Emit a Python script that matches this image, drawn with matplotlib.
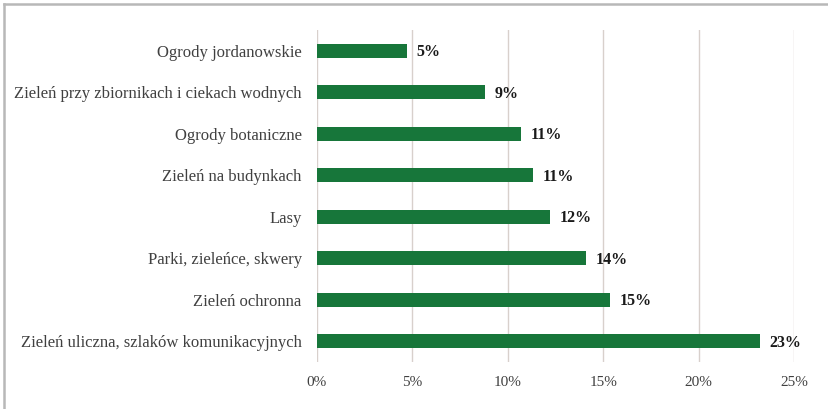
import matplotlib.pyplot as plt
from matplotlib.lines import Line2D
from matplotlib.ticker import FuncFormatter

categories = [
    "Ogrody jordanowskie",
    "Zieleń przy zbiornikach i ciekach wodnych",
    "Ogrody botaniczne",
    "Zieleń na budynkach",
    "Lasy",
    "Parki, zieleńce, skwery",
    "Zieleń ochronna",
    "Zieleń uliczna, szlaków komunikacyjnych",
]
values = [4.7, 8.8, 10.7, 11.3, 12.2, 14.1, 15.35, 23.2]
value_labels = ["5%", "9%", "11%", "11%", "12%", "14%", "15%", "23%"]
xticks = [0, 5, 10, 15, 20, 25]

plt.rcParams['font.family'] = ['Liberation Serif', 'DejaVu Serif']

fig = plt.figure(figsize=(8.29, 4.09), dpi=100)
ax = fig.add_axes([317 / 829, 1 - 362 / 409, 477 / 829, 332 / 409])

y = list(range(len(categories)))
ax.barh(y, values, height=0.34, color='#17763a', zorder=3)

for yi, v, lab in zip(y, values, value_labels):
    ax.annotate(lab, (v, yi), xytext=(7, -1), textcoords='offset points',
                ha='left', va='center', fontsize=11.5, fontweight='bold', color='#1a1a1a')

ax.set_xlim(0, 25)
ax.set_ylim(len(categories) - 0.5, -0.5)
ax.set_xticks(xticks)
ax.xaxis.set_major_formatter(FuncFormatter(lambda x, _: f"{x:.0f}%"))
ax.set_yticks(y)
ax.set_yticklabels(categories, fontsize=12)
ax.tick_params(axis='both', length=0, labelcolor='#404040')
ax.tick_params(axis='x', pad=10, labelsize=11)
ax.tick_params(axis='y', pad=11)
ax.grid(axis='x', color='#d8d0cc', linewidth=1, zorder=0)
for s in ax.spines.values():
    s.set_visible(False)

# outer frame, only the top and left edges show
fig.add_artist(Line2D([4 / 829, 4 / 829], [0, 1 - 4 / 409], color='#b8b8b8', linewidth=1.8, transform=fig.transFigure))
fig.add_artist(Line2D([4 / 829, 1], [1 - 4 / 409, 1 - 4 / 409], color='#b8b8b8', linewidth=1.8, transform=fig.transFigure))

fig.savefig('out.png', dpi=100)
